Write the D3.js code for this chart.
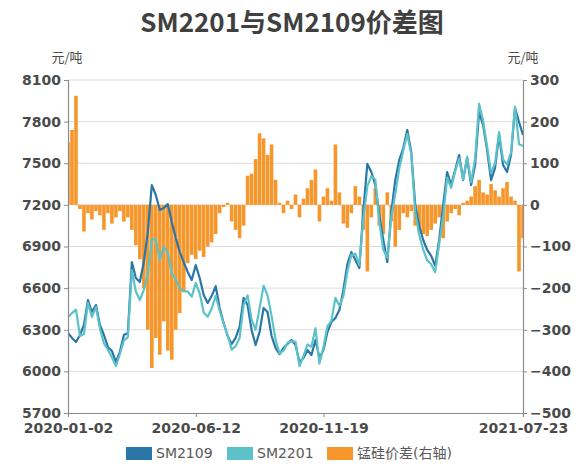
<!DOCTYPE html>
<html>
<head>
  <meta charset="UTF-8">
  <style>
    body { margin: 0; background: #fff; }
    svg { display: block; }
  </style>
</head>
<body>
<svg></svg>
<script src="https://d3js.org/d3.v7.min.js"></script>

<script>

let width = 587, height = 469;

// chart data (~every 4 trading days)
const sm2109 = [6277, 6241, 6212, 6262, 6334, 6514, 6428, 6478, 6334, 6262,
  6176, 6147, 6068, 6140, 6262, 6277, 6788, 6673, 6644, 6788,
  7005, 7343, 7271, 7163, 7178, 7206, 7077, 6961, 6860, 6788,
  6716, 6659, 6767, 6673, 6550, 6493, 6543, 6615, 6457, 6349,
  6255, 6197, 6241, 6320, 6529, 6478, 6298, 6190, 6284, 6457,
  6428, 6255, 6169, 6125, 6169, 6197, 6226, 6190, 6068, 6096,
  6154, 6118, 6226, 6096, 6154, 6284, 6356, 6385, 6442, 6587,
  6774, 6860, 6803, 6745, 7163, 7495, 7437, 7343, 7127, 6947,
  6788, 7149, 7379, 7523, 7610, 7740, 7581, 7199, 7048, 6947,
  6875, 6832, 6760, 6947, 7199, 7437, 7343, 7451, 7559, 7379,
  7538, 7343, 7487, 7869, 7776, 7596, 7379, 7466, 7704, 7487,
  7437, 7559, 7898, 7797, 7704];

const sm2201 = [6390, 6420, 6445, 6255, 6270, 6494, 6393, 6463, 6309, 6202,
  6156, 6102, 6038, 6125, 6222, 6247, 6728, 6576, 6514, 6588,
  6705, 6951, 6951, 6803, 6898, 6856, 6705, 6661, 6600, 6578,
  6576, 6539, 6637, 6563, 6425, 6393, 6453, 6545, 6437, 6344,
  6260, 6157, 6181, 6240, 6479, 6548, 6373, 6300, 6456, 6617,
  6548, 6400, 6229, 6130, 6149, 6207, 6216, 6215, 6038, 6111,
  6194, 6178, 6311, 6056, 6174, 6324, 6366, 6530, 6472, 6542,
  6719, 6840, 6848, 6765, 7103, 7335, 7407, 7383, 7077, 6877,
  6818, 7109, 7279, 7463, 7590, 7710, 7566, 7149, 6983, 6877,
  6800, 6772, 6715, 6917, 7119, 7397, 7323, 7441, 7534, 7384,
  7548, 7363, 7532, 7929, 7806, 7621, 7429, 7501, 7724, 7527,
  7492, 7579, 7908, 7637, 7624];

const spread = [150, 180, 262, -10, -64, -20, -35, -15, -25, -60,
  -20, -45, -30, -15, -40, -30, -60, -97, -130, -200,
  -300, -392, -320, -360, -280, -350, -372, -300, -260, -210,
  -140, -120, -130, -110, -125, -100, -90, -70, -20, -5,
  5, -40, -60, -80, -50, 70, 75, 110, 172, 160,
  120, 145, 60, 5, -20, 10, -10, 25, -30, 15,
  40, 60, 85, -40, 20, 40, 10, 145, 30, -45,
  -55, -20, 45, 20, -60, -160, -30, 40, -50, -70,
  30, -40, -100, -60, -20, -30, -15, -50, -65, -70,
  -75, -60, -45, -30, -80, -40, -20, -10, -25, 5,
  10, 20, 45, 60, 30, 25, 50, 35, 20, 40,
  55, 20, 10, -160, -80];

const xTickIndex = [0, 32, 64, 114];
const xTickLabels = ["2020-01-02", "2020-06-12", "2020-11-19", "2021-07-23"];
const leftTicks = [5700, 6000, 6300, 6600, 6900, 7200, 7500, 7800, 8100];
const rightTicks = [-500, -400, -300, -200, -100, 0, 100, 200, 300];
const seriesNames = ["SM2109", "SM2201", "锰硅价差(右轴)"];
const colors = ["#2a76a8", "#5cc2c8", "#f7962b"];

const pLeft = 68, pRight = 523, pTop = 80, pBottom = 413;
const txtColor = "#4a4a4a";

let svg = d3.select("svg")
    .attr("width", width)
    .attr("height", height)
    .attr("viewBox", "0 0 " + width + " " + height);

let x = d3.scaleLinear().domain([0, sm2109.length - 1]).range([pLeft, pRight]);
let yL = d3.scaleLinear().domain([5700, 8100]).range([pBottom, pTop]);
let yR = d3.scaleLinear().domain([-500, 300]).range([pBottom, pTop]);

// title
svg.append("text")
    .attr("x", 292).attr("y", 32)
    .attr("text-anchor", "middle")
    .style("font-family", "'Noto Sans CJK SC', 'DejaVu Sans', sans-serif")
    .style("font-weight", "bold")
    .style("font-size", "26px")
    .style("fill", "#404040")
    .text("SM2201与SM2109价差图");

// units
[[67, "元/吨"], [523, "元/吨"]].forEach(u => {
    svg.append("text")
        .attr("x", u[0]).attr("y", 62)
        .attr("text-anchor", "middle")
        .style("font-family", "'Noto Sans CJK SC', sans-serif")
        .style("font-size", "13px")
        .style("fill", txtColor)
        .text(u[1]);
});

// gridlines
svg.append("g")
    .selectAll("line")
    .data(leftTicks.slice(1))
    .enter()
    .append("line")
    .attr("x1", pLeft).attr("x2", pRight)
    .attr("y1", d => yL(d)).attr("y2", d => yL(d))
    .style("stroke", "#dcdcdc")
    .style("stroke-width", 1);

// clip for marks
svg.append("clipPath").attr("id", "plotclip")
    .append("rect")
    .attr("x", pLeft).attr("y", pTop - 5)
    .attr("width", pRight - pLeft).attr("height", pBottom - pTop + 5);

let marks = svg.append("g").attr("clip-path", "url(#plotclip)");

// spread bars
let bw = (x(1) - x(0)) * 0.9;
marks.append("g")
    .selectAll("rect")
    .data(spread)
    .enter()
    .append("rect")
    .attr("x", (d, i) => x(i) - bw / 2)
    .attr("y", d => Math.min(yR(d), yR(0)))
    .attr("width", bw)
    .attr("height", d => Math.abs(yR(d) - yR(0)))
    .style("fill", colors[2]);

// lines
let lineL = d3.line()
    .x((d, i) => x(i))
    .y(d => yL(d));

[sm2109, sm2201].forEach((s, k) => {
    marks.append("path")
        .datum(s)
        .attr("d", lineL)
        .style("fill", "none")
        .style("stroke", colors[k])
        .style("stroke-width", 2.2)
        .style("stroke-linejoin", "round");
});

// axes
let axisFont = "'DejaVu Sans', sans-serif";

let gL = svg.append("g")
    .attr("transform", "translate(" + pLeft + ",0)")
    .call(d3.axisLeft(yL).tickValues(leftTicks).tickSize(4).tickPadding(3).tickFormat(d3.format("d")));

let gR = svg.append("g")
    .attr("transform", "translate(" + pRight + ",0)")
    .call(d3.axisRight(yR).tickValues(rightTicks).tickSize(4).tickPadding(3).tickFormat(d3.format("d")));

let gB = svg.append("g")
    .attr("transform", "translate(0," + pBottom + ")")
    .call(d3.axisBottom(x).tickValues(xTickIndex).tickSize(4).tickPadding(6)
        .tickFormat((d, i) => xTickLabels[i]));

[gL, gR, gB].forEach(g => {
    g.select(".domain").style("stroke", "#8c8c8c").style("stroke-width", 1.2);
    g.selectAll(".tick line").style("stroke", "#8c8c8c");
    g.selectAll("text")
        .style("font-family", axisFont)
        .style("font-weight", "bold")
        .style("font-size", "14px")
        .style("fill", txtColor);
});

// legend
let legendX = [126, 227, 327];
let legend = svg.selectAll("g.legendEntry")
    .data(seriesNames)
    .enter()
    .append("g").attr("class", "legendEntry");

legend.append("rect")
    .attr("x", (d, i) => legendX[i])
    .attr("y", 447)
    .attr("width", 26)
    .attr("height", 13)
    .style("fill", (d, i) => colors[i]);

legend.append("text")
    .attr("x", (d, i) => legendX[i] + 30)
    .attr("y", 458)
    .style("font-family", "'DejaVu Sans', 'Noto Sans CJK SC', sans-serif")
    .style("font-size", "14px")
    .style("fill", "#595959")
    .text(d => d);

</script>

</body>
</html>
